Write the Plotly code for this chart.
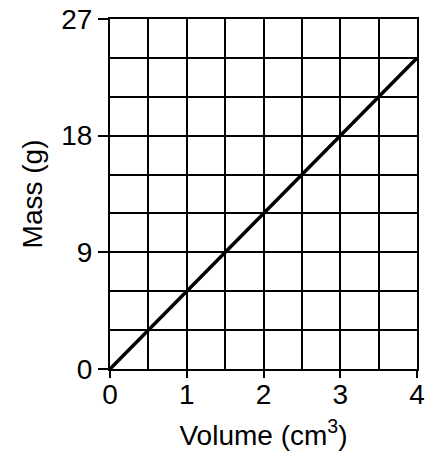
import plotly.graph_objects as go

volume = [0, 4]
mass = [0, 24]
x_ticks = [0, 1, 2, 3, 4]
y_ticks = [0, 9, 18, 27]

fig = go.Figure()
fig.add_trace(go.Scatter(x=volume, y=mass, mode="lines",
                         line=dict(color="black", width=3.5), showlegend=False))

font = dict(family="Liberation Sans, Arial, sans-serif", size=28, color="black")

fig.update_xaxes(range=[0, 4], tickvals=x_ticks, ticktext=[str(v) for v in x_ticks],
                 showgrid=True, gridcolor="black", gridwidth=2,
                 minor=dict(dtick=0.5, showgrid=True, gridcolor="black", gridwidth=2),
                 showline=True, linecolor="black", linewidth=2, mirror=True,
                 ticks="outside", ticklen=7, tickwidth=2, tickcolor="black",
                 tickfont=font, zeroline=False, automargin=False,
                 ticklabelstandoff=-8,
                 title=dict(text="Volume (cm<sup>3</sup>)", font=font, standoff=17))
fig.update_yaxes(range=[0, 27], tickvals=y_ticks, ticktext=[str(v) for v in y_ticks],
                 showgrid=True, gridcolor="black", gridwidth=2,
                 minor=dict(dtick=3, showgrid=True, gridcolor="black", gridwidth=2),
                 showline=True, linecolor="black", linewidth=2, mirror=True,
                 ticks="outside", ticklen=10, tickwidth=2, tickcolor="black",
                 tickfont=font, zeroline=False, automargin=False,
                 title=dict(text="Mass (g)", font=font, standoff=10))

fig.update_layout(width=428, height=453,
                  margin=dict(l=110, r=11, t=19, b=84),
                  plot_bgcolor="white", paper_bgcolor="white")

fig.write_html("out.html", config={"displayModeBar": False},
               post_script="document.body.style.margin='0';document.body.style.overflow='hidden';")
